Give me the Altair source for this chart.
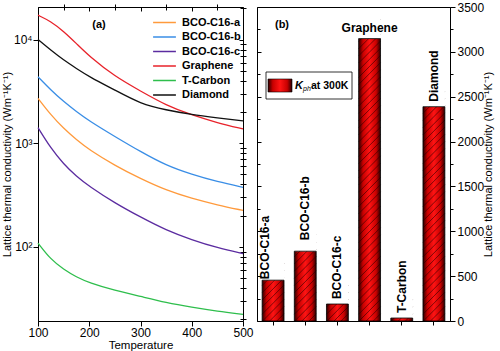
import altair as alt
import pandas as pd

# ---------------- panel (a): kappa vs temperature ----------------
temps = [100, 125, 150, 175, 200, 250, 300, 350, 400, 450, 500]
bco_a = [2710, 1875, 1390, 1080, 865, 610, 455, 352, 293, 254, 225]
bco_b = [4380, 3260, 2520, 2020, 1640, 1160, 830, 610, 500, 425, 375]
bco_c = [1415, 896, 630, 479, 384, 265, 194, 145, 117, 98, 86]
graphene = [17170, 15000, 12000, 9150, 6900, 4400, 3190, 2320, 1870, 1575, 1375]
tcarbon = [109, 75.6, 60.7, 51.2, 45.1, 38, 33.3, 29, 26.2, 24, 22.4]
diamond = [10000, 7900, 6340, 5260, 4380, 3260, 2400, 2090, 1890, 1760, 1640]

series_names = ["BCO-C16-a", "BCO-C16-b", "BCO-C16-c", "Graphene", "T-Carbon", "Diamond"]
series_values = [bco_a, bco_b, bco_c, graphene, tcarbon, diamond]
series_colors = ["#FF9A3C", "#3A8EE6", "#5B2CA0", "#E8222A", "#2EBE4C", "#111111"]

# ---------------- panel (b): kappa at 300 K ----------------
bar_names = ["BCO-C16-a", "BCO-C16-b", "BCO-C16-c", "Graphene", "T-Carbon", "Diamond"]
kph_300 = [455, 778, 189, 3148, 33, 2389]

x_major = [100, 200, 300, 400, 500]
x_minor = [150, 250, 350, 450]
y_major = [100, 1000, 10000]
y_minor = [20, 30, 40, 50, 60, 70, 80, 90,
           200, 300, 400, 500, 600, 700, 800, 900,
           2000, 3000, 4000, 5000, 6000, 7000, 8000, 9000, 20000]
b_major = [0, 500, 1000, 1500, 2000, 2500, 3000, 3500]
b_minor = [250, 750, 1250, 1750, 2250, 2750, 3250]

FONT = "Liberation Sans"
W1, W2, H = 205, 193, 314
YTITLE = "Lattice thermal conductivity (Wm\u207b\u00b9K\u207b\u00b9)"

rows = []
for name, vals in zip(series_names, series_values):
    for t, v in zip(temps, vals):
        rows.append({"T": t, "K": v, "series": name})
df = pd.DataFrame(rows)

xs = alt.Scale(domain=[100, 500], nice=False, zero=False)
ys = alt.Scale(type="log", domain=[19.3, 20600], nice=False)

base = alt.Chart(df)
lines = base.mark_line(strokeWidth=1.3, interpolate="basis").encode(
    x=alt.X("T:Q", scale=xs, axis=alt.Axis(values=x_major, title="Temperature", tickSize=5,
                                           labelPadding=1, titlePadding=1, labelFontSize=12,
                                           titleFontSize=11.5, format="d", labelFlush=False)),
    y=alt.Y("K:Q", scale=ys, axis=alt.Axis(values=y_major, title=YTITLE, tickSize=5,
                                           labelPadding=1, titlePadding=1, labelFontSize=12,
                                           titleFontSize=11, labelFlush=False,
                                           labelExpr="datum.value == 100 ? '10\u00b2' : datum.value == 1000 ? '10\u00b3' : '10\u2074'")),
    color=alt.Color("series:N", sort=series_names,
                    scale=alt.Scale(domain=series_names, range=series_colors),
                    legend=alt.Legend(orient="none", legendX=114, legendY=10, title=None,
                                      symbolType="stroke", symbolSize=520, symbolStrokeWidth=1.6,
                                      labelFont=FONT, labelFontWeight="bold", labelFontSize=11,
                                      labelOffset=5, rowPadding=2.5, padding=0, clipHeight=11)),
)
minor_a = base.mark_line(opacity=0).encode(
    x=alt.X("T:Q", scale=xs, axis=alt.Axis(values=x_minor, labels=False, tickSize=3, domain=False, title=None)),
    y=alt.Y("K:Q", scale=ys, axis=alt.Axis(values=y_minor, labels=False, tickSize=3, domain=False, title=None)),
    detail="series:N",
)
mirror_a1 = base.mark_line(opacity=0).encode(
    x=alt.X("T:Q", scale=xs, axis=alt.Axis(orient="top", values=x_major, labels=False, tickSize=4,
                                           domain=False, title=None, offset=-4)),
    y=alt.Y("K:Q", scale=ys, axis=alt.Axis(orient="right", values=y_major, labels=False, tickSize=4,
                                           domain=False, title=None, offset=-4)),
    detail="series:N",
)
mirror_a2 = base.mark_line(opacity=0).encode(
    x=alt.X("T:Q", scale=xs, axis=alt.Axis(orient="top", values=x_minor, labels=False, tickSize=3,
                                           domain=False, title=None, offset=-3)),
    y=alt.Y("K:Q", scale=ys, axis=alt.Axis(orient="right", values=y_minor, labels=False, tickSize=3,
                                           domain=False, title=None, offset=-3)),
    detail="series:N",
)
one = pd.DataFrame({"t": ["(a)"]})
label_a = alt.Chart(one).mark_text(font=FONT, fontWeight="bold", fontSize=11, color="black").encode(
    text="t:N", x=alt.value(61), y=alt.value(18))

panel_a = alt.layer(lines, minor_a, mirror_a1, mirror_a2, label_a).resolve_axis(
    x="independent", y="independent").properties(width=W1, height=H)

# ---------------- panel (b) ----------------
bdf = pd.DataFrame({"name": bar_names, "k": kph_300})
xb = alt.Scale(domain=bar_names, paddingInner=0.32, paddingOuter=0.16)
yb = alt.Scale(domain=[0, 3500], nice=False)
grad = alt.Gradient(gradient="linear", x1=0, x2=1, y1=0, y2=0, stops=[
    alt.GradientStop(color="#2a0000", offset=0),
    alt.GradientStop(color="#c80000", offset=0.2),
    alt.GradientStop(color="#ff1414", offset=0.5),
    alt.GradientStop(color="#c80000", offset=0.8),
    alt.GradientStop(color="#2a0000", offset=1),
])
# hatch geometry (style): half bar width in px, rise of a 45-degree stroke and spacing in data units
HALF = 10.9
RISE = 244
STEP = 80

bb = alt.Chart(bdf)
bars = bb.mark_bar(fill=grad, strokeWidth=0).encode(
    x=alt.X("name:N", scale=xb, sort=bar_names,
            axis=alt.Axis(labels=False, title=None, tickSize=4)),
    y=alt.Y("k:Q", scale=yb, axis=alt.Axis(orient="right", values=b_major, title=YTITLE,
                                           titleAngle=270, tickSize=5, labelPadding=2, format="d",
                                           titlePadding=10, labelFontSize=12, titleFontSize=11,
                                           labelFlush=False)),
)
hatch = bb.transform_calculate(
    s=f"sequence(-{RISE}, datum.k, {STEP})"
).transform_flatten(["s"]).transform_calculate(
    s2=f"datum.s + {RISE}"
).mark_rule(clip=True, xOffset=-HALF, x2Offset=HALF, stroke="#200000", strokeWidth=0.7,
            strokeOpacity=0.8).encode(
    x=alt.X("name:N", scale=xb, sort=bar_names, axis=None),
    x2=alt.X2("name:N"),
    y=alt.Y("s:Q", scale=yb, axis=None),
    y2="s2:Q",
)
cover = bb.transform_calculate(top=f"datum.k + {RISE}").mark_bar(fill="white", strokeWidth=0).encode(
    x=alt.X("name:N", scale=xb, sort=bar_names, axis=None),
    y=alt.Y("k:Q", scale=yb, axis=None),
    y2="top:Q",
)
outline = bb.mark_bar(fillOpacity=0, stroke="#000000", strokeWidth=0.8).encode(
    x=alt.X("name:N", scale=xb, sort=bar_names, axis=None),
    y=alt.Y("k:Q", scale=yb, axis=None),
)
minor_b = bb.mark_bar(opacity=0).encode(
    x=alt.X("name:N", scale=xb, sort=bar_names, axis=None),
    y=alt.Y("k:Q", scale=yb, axis=alt.Axis(orient="right", values=b_minor, labels=False,
                                           tickSize=3, domain=False, title=None)),
)
mirror_b1 = bb.mark_bar(opacity=0).encode(
    x=alt.X("name:N", scale=xb, sort=bar_names, axis=None),
    y=alt.Y("k:Q", scale=yb, axis=alt.Axis(orient="left", values=b_major, labels=False,
                                           tickSize=4, domain=False, title=None, offset=-4)),
)
mirror_b2 = bb.mark_bar(opacity=0).encode(
    x=alt.X("name:N", scale=xb, sort=bar_names, axis=None),
    y=alt.Y("k:Q", scale=yb, axis=alt.Axis(orient="left", values=b_minor, labels=False,
                                           tickSize=3, domain=False, title=None, offset=-3)),
)


def rot_label(flt, dx, dy):
    return bb.transform_filter(flt).mark_text(
        angle=270, align="left", baseline="middle", dx=dx, dy=dy, color="black",
        font=FONT, fontWeight="bold", fontSize=12).encode(
        x=alt.X("name:N", scale=xb, sort=bar_names, axis=None),
        y=alt.Y("k:Q", scale=yb, axis=None),
        text="name:N")


lab1 = rot_label(alt.datum.name == "BCO-C16-a", 1, -8)
lab2 = rot_label(alt.datum.name == "BCO-C16-b", 11, 0)
lab3 = rot_label(alt.FieldOneOfPredicate(field="name", oneOf=["BCO-C16-c", "T-Carbon", "Diamond"]), 5, 0)
lab4 = bb.transform_filter(alt.datum.name == "Graphene").mark_text(
    baseline="bottom", dy=-4, font=FONT, fontWeight="bold", fontSize=12, color="black").encode(
    x=alt.X("name:N", scale=xb, sort=bar_names, axis=None),
    y=alt.Y("k:Q", scale=yb, axis=None),
    text="name:N")

dummy = alt.Chart(pd.DataFrame({"a": [0]}))
box = dummy.mark_rect(fill="white", stroke="black", strokeWidth=0.8).encode(
    x=alt.value(9), x2=alt.value(95), y=alt.value(65), y2=alt.value(92))
swatch = dummy.mark_rect(fill=grad, stroke="black", strokeWidth=0.6).encode(
    x=alt.value(11), x2=alt.value(35), y=alt.value(72), y2=alt.value(85))
k_txt = dummy.mark_text(text="K", font=FONT, fontStyle="italic", fontWeight="bold", fontSize=11,
                        color="black", align="left", baseline="middle").encode(
    x=alt.value(38), y=alt.value(78.5))
ph_txt = dummy.mark_text(text="ph", font=FONT, fontStyle="italic", fontSize=7, color="black",
                         align="left", baseline="middle").encode(x=alt.value(46), y=alt.value(81.5))
at_txt = dummy.mark_text(text="at 300K", font=FONT, fontWeight="bold", fontSize=10.5, color="black",
                         align="left", baseline="middle").encode(x=alt.value(54), y=alt.value(78.5))
label_b = dummy.mark_text(text="(b)", font=FONT, fontWeight="bold", fontSize=11, color="black").encode(
    x=alt.value(25), y=alt.value(18))

panel_b = alt.layer(bars, hatch, cover, outline, minor_b, mirror_b1, mirror_b2,
                    lab1, lab2, lab3, lab4,
                    box, swatch, k_txt, ph_txt, at_txt, label_b).resolve_axis(
    x="independent", y="independent").properties(width=W2, height=H)

chart = alt.hconcat(panel_a, panel_b, spacing=2).properties(
    padding={"left": 0, "top": 0, "right": 1, "bottom": 0}
).configure_view(stroke="black", strokeWidth=1).configure_axis(
    labelFont=FONT, titleFont=FONT, grid=False, domainColor="black", tickColor="black",
    labelColor="black", titleColor="black", titleFontWeight="normal", domainWidth=1
).configure_text(font=FONT)

chart.save("out.html", embed_options={"renderer": "svg", "actions": False})
